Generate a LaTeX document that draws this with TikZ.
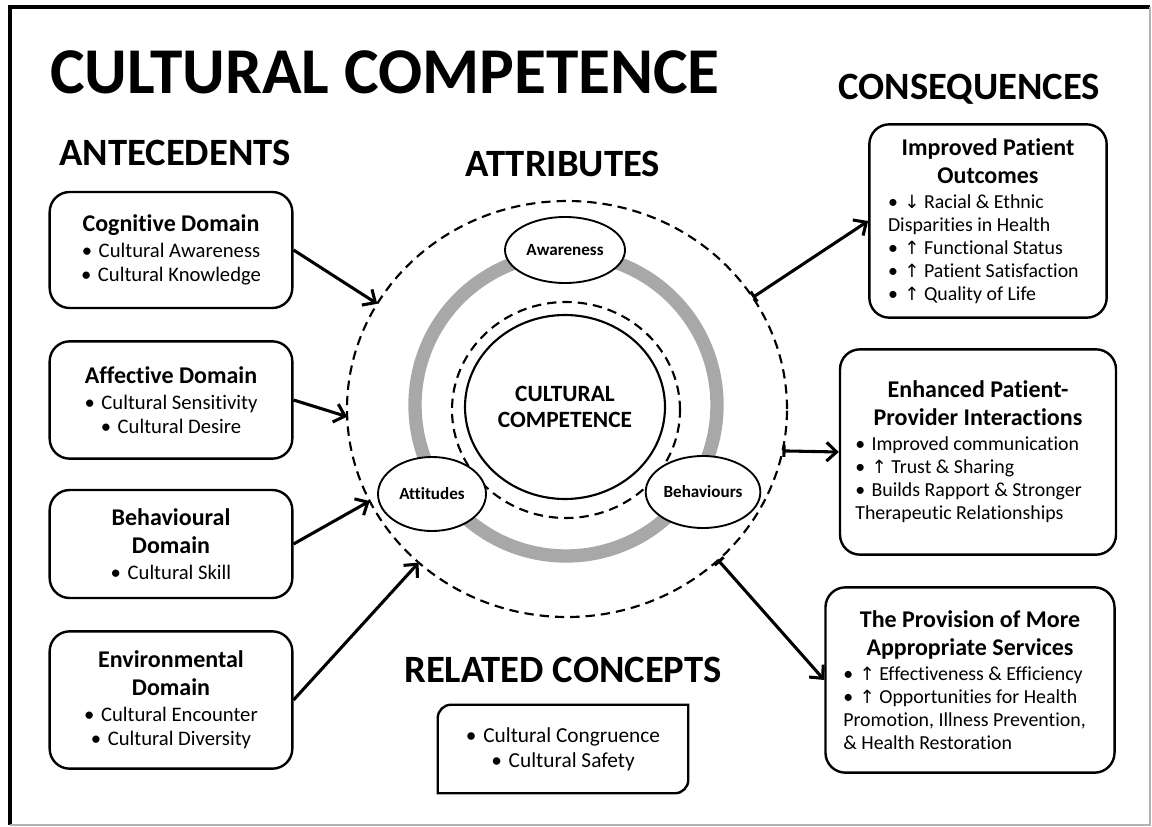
\documentclass[tikz,border=0pt]{standalone}
\usepackage{fontspec}
\setmainfont{Carlito}[Ligatures={NoCommon}]
\newfontfamily\arrowfont[Scale=0.92]{DejaVu Sans}
\usetikzlibrary{arrows.meta}
\usetikzlibrary{shapes.geometric}
\definecolor{ringgray}{RGB}{168,168,168}
\newcommand{\uparr}{{\arrowfont ↑}}
\newcommand{\downarr}{{\arrowfont ↓}}
\newcommand{\bulletmark}{•\hskip0.32em\relax}
\newcommand{\boxtitle}[1]{{\centering\fontsize{18}{21}\selectfont\bfseries #1\par}\vskip1.5pt}

\begin{document}
\begin{tikzpicture}[x=0.75pt,y=-0.75pt,
    box/.style={draw,line width=1.8pt,rounded corners=15pt,align=flush center,inner xsep=8pt},
    bodytext/.style={font=\fontsize{15.5}{18}\selectfont},
    smalltext/.style={font=\fontsize{14.9}{17.3}\selectfont},
    heading/.style={anchor=base,font=\fontsize{29}{34}\selectfont\bfseries},
    attr/.style={ellipse,draw,line width=1.4pt,fill=white,inner sep=0pt,font=\fontsize{12.8}{14}\selectfont\bfseries},
    dashring/.style={ellipse,draw,line width=1.6pt,dash pattern=on 7pt off 4.5pt,inner sep=0pt,outer sep=0pt},
    link/.style={line width=2.3pt,-{Straight Barb[length=7.5pt,width=14pt]}},
    outlink/.style={line width=2.3pt,{Bar[width=9pt]}-{Straight Barb[length=7.5pt,width=14pt]}}]
    \useasboundingbox (0,0) rectangle (1152,827);
    % frame
    \draw[line width=2.4pt] (10,825) -- (10,7) -- (1150,7);
    \draw[gray!60,line width=0.8pt] (1150,7) -- (1150,825) -- (10,825);

    % headings
    \node[anchor=base,font=\fontsize{49}{56}\selectfont\bfseries] (title) at (385,94) {CULTURAL COMPETENCE};
    \node[heading] (antehead) at (175,166) {ANTECEDENTS};
    \node[heading] (conshead) at (969,100) {CONSEQUENCES};
    \node[heading] (attrhead) at (563,177) {ATTRIBUTES};
    \node[heading] (relhead) at (563,682) {RELATED CONCEPTS};

    % attributes
    \draw[ringgray,line width=10pt] (566,405) circle[radius=151];
    \node[dashring,minimum width=171pt,minimum height=162pt] (innerring) at (566,410) {};
    \node[ellipse,draw,line width=1.6pt,minimum width=150pt,minimum height=138pt,inner sep=0pt,align=center,font=\fontsize{17.5}{20}\selectfont\bfseries] (core) at (565,407) {CULTURAL\\COMPETENCE};
    \node[dashring,minimum width=330pt,minimum height=312pt] (attrzone) at (567,409) {};
    \node[attr,minimum width=90pt,minimum height=49.5pt] (awareness) at (565,250) {Awareness};
    \node[attr,minimum width=81pt,minimum height=55.5pt] (attitudes) at (432,494) {Attitudes};
    \node[attr,minimum width=86pt,minimum height=54pt] (behaviours) at (703,492) {Behaviours};

    % antecedents
    \node[box,bodytext,text width=166pt,minimum height=87pt] (cog) at (171,250) {\boxtitle{Cognitive Domain}\bulletmark Cultural Awareness\\ \bulletmark Cultural Knowledge};
    \node[box,bodytext,text width=166pt,minimum height=88pt] (aff) at (171,400) {\boxtitle{Affective Domain}\bulletmark Cultural Sensitivity\\ \bulletmark Cultural Desire};
    \node[box,bodytext,text width=166pt,minimum height=81pt] (beh) at (171,544) {\boxtitle{Behavioural\\ Domain}\bulletmark Cultural Skill};
    \node[box,bodytext,text width=166pt,minimum height=103pt] (env) at (171,700) {\boxtitle{Environmental\\ Domain}\bulletmark Cultural Encounter\\ \bulletmark Cultural Diversity};

    % consequences
    \node[box,smalltext,align=flush left,text width=150pt,inner xsep=14pt,minimum height=145pt] (outcomes) at (988,221) {\boxtitle{Improved Patient\\ Outcomes}\bulletmark \downarr{} Racial \& Ethnic\\ Disparities in Health\\ \bulletmark \uparr{} Functional Status\\ \bulletmark \uparr{} Patient Satisfaction\\ \bulletmark \uparr{} Quality of Life};
    \node[box,smalltext,align=flush left,text width=184pt,inner xsep=11.5pt,minimum height=154pt] (interact) at (978,452) {\boxtitle{Enhanced Patient-\\ Provider Interactions}\bulletmark Improved communication\\ \bulletmark \uparr{} Trust \& Sharing\\ \bulletmark Builds Rapport \& Stronger\\ Therapeutic Relationships};
    \node[box,smalltext,align=flush left,text width=190pt,inner xsep=13.4pt,minimum height=139pt] (services) at (970,680) {\boxtitle{The Provision of More\\ Appropriate Services}\bulletmark \uparr{} Effectiveness \& Efficiency\\ \bulletmark \uparr{} Opportunities for Health\\ Promotion, Illness Prevention,\\ \& Health Restoration};

    % related concepts
    \node[align=flush center,font=\fontsize{16}{18.8}\selectfont,minimum width=187.5pt,minimum height=66pt] (related) at (563,749) {\bulletmark Cultural Congruence\\ \bulletmark Cultural Safety};
    \draw[line width=1.8pt] (related.south west) -- ([yshift=-10pt]related.north west) arc[start angle=180,end angle=90,radius=10pt] -- (related.north east) -- ([yshift=10pt]related.south east) arc[start angle=0,end angle=-90,radius=10pt] -- cycle;

    % arrows
    \draw[link] (cog.east) -- (attrzone.151);
    \draw[link] (aff.east) -- (attrzone.182);
    \draw[link] (beh.east) -- (attrzone.205);
    \draw[link] (env.east) -- (attrzone.226);
    \draw[outlink] (attrzone.31) -- (outcomes.west);
    \draw[outlink] (attrzone.349) -- (interact.west);
    \draw[outlink] (attrzone.315) -- (services.west);
\end{tikzpicture}
\end{document}
